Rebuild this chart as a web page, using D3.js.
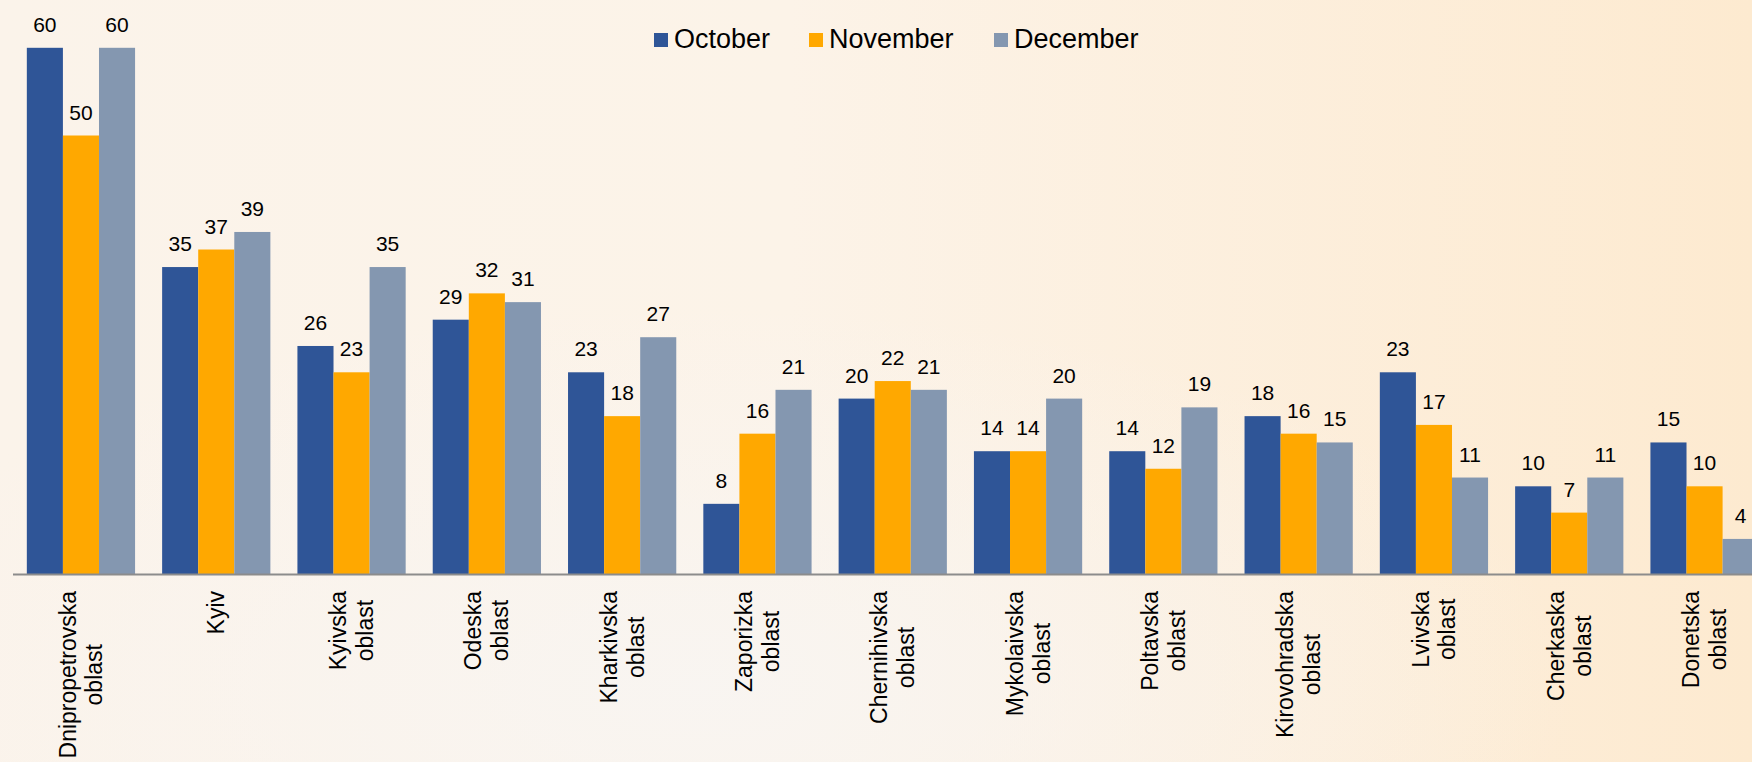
<!DOCTYPE html>
<html>
<head>
<meta charset="utf-8">
<script src="https://cdn.jsdelivr.net/npm/d3@7"></script>
<style>
    html, body { margin: 0; padding: 0; overflow: hidden; }
    body { width: 1752px; height: 762px; }
    text { font-family: "Liberation Sans", Arial, sans-serif; fill: #000; }
</style>
</head>
<body>
<svg id="chart" width="1752" height="762"></svg>
<script>
/*
    Grouped bars by region, three months.
*/

var regions = [
    "Dnipropetrovska oblast", "Kyiv", "Kyivska oblast", "Odeska oblast",
    "Kharkivska oblast", "Zaporizka oblast", "Chernihivska oblast",
    "Mykolaivska oblast", "Poltavska oblast", "Kirovohradska oblast",
    "Lvivska oblast", "Cherkaska oblast", "Donetska oblast"
];
var months = ["October", "November", "December"];
var october  = [60, 35, 26, 29, 23,  8, 20, 14, 14, 18, 23, 10, 15];
var november = [50, 37, 23, 32, 18, 16, 22, 14, 12, 16, 17,  7, 10];
var december = [60, 39, 35, 31, 27, 21, 21, 20, 19, 15, 11, 11,  4];
var colors = ["#2F5597", "#FFA800", "#8497B0"];

var svg = d3.select("#chart");
var W = 1752, H = 762;
var axisY = 574;

// background
var defs = svg.append("defs");
var bg = defs.append("linearGradient").attr("id", "bg")
    .attr("x1", 0).attr("y1", 0).attr("x2", 1).attr("y2", 0);
bg.append("stop").attr("offset", "0%").attr("stop-color", "#FBF3EA");
bg.append("stop").attr("offset", "45%").attr("stop-color", "#FCF3E8");
bg.append("stop").attr("offset", "100%").attr("stop-color", "#FDEAD0");
var glow = defs.append("radialGradient").attr("id", "glow")
    .attr("cx", 0.4).attr("cy", 0.9).attr("r", 0.5);
glow.append("stop").attr("offset", "0%").attr("stop-color", "#F8F5F2").attr("stop-opacity", 0.9);
glow.append("stop").attr("offset", "100%").attr("stop-color", "#F8F5F2").attr("stop-opacity", 0);

svg.append("rect").attr("width", W).attr("height", H).attr("fill", "url(#bg)");
svg.append("rect").attr("width", W).attr("height", H).attr("fill", "url(#glow)");

var series = [october, november, december];
var rows = regions.map(function(r, i) {
    return { region: r, values: series.map(function(s) { return s[i]; }) };
});

var x0 = d3.scaleBand()
    .domain(regions)
    .range([13.3, 13.3 + 135.3 * regions.length])
    .paddingInner(0.2)
    .paddingOuter(0.1);

var x1 = d3.scaleBand()
    .domain(d3.range(months.length))
    .range([0, x0.bandwidth()]);

var y = d3.scaleLinear()
    .domain([0, 60])
    .range([axisY, axisY - 60 * 8.77]);

var groups = svg.selectAll(".group")
    .data(rows)
    .enter().append("g")
    .attr("class", "group")
    .attr("transform", function(d) { return "translate(" + x0(d.region) + ",0)"; });

groups.selectAll("rect")
    .data(function(d) { return d.values; })
    .enter().append("rect")
    .attr("x", function(d, i) { return x1(i); })
    .attr("y", function(d) { return y(d); })
    .attr("width", x1.bandwidth())
    .attr("height", function(d) { return axisY - y(d); })
    .attr("fill", function(d, i) { return colors[i]; });

groups.selectAll(".val")
    .data(function(d) { return d.values; })
    .enter().append("text")
    .attr("class", "val")
    .attr("x", function(d, i) { return x1(i) + x1.bandwidth() / 2; })
    .attr("y", function(d) { return y(d) - 16; })
    .attr("text-anchor", "middle")
    .style("font-size", "21px")
    .text(function(d) { return d; });

// axis line
svg.append("line")
    .attr("x1", 13).attr("x2", W)
    .attr("y1", axisY + 0.5).attr("y2", axisY + 0.5)
    .attr("stroke", "#8C8C8C")
    .attr("stroke-width", 2);

// category labels, rotated, lines centred on each other
var labels = svg.selectAll(".cat")
    .data(regions)
    .enter().append("g")
    .attr("class", "cat")
    .attr("transform", function(d) {
        return "translate(" + (x0(d) + x0.bandwidth() / 2) + "," + (axisY + 17) + ") rotate(-90)";
    });

labels.each(function(d) {
    var g = d3.select(this);
    var parts = d.split(" ");
    var lineH = 27;
    var t = g.append("text")
        .attr("text-anchor", "middle")
        .style("font-size", "23px");
    parts.forEach(function(p, i) {
        t.append("tspan")
            .attr("x", 0)
            .attr("y", (i - (parts.length - 1) / 2) * lineH)
            .attr("dy", "0.35em")
            .text(p);
    });
    var maxW = 0;
    t.selectAll("tspan").each(function() {
        maxW = Math.max(maxW, this.getComputedTextLength());
    });
    t.selectAll("tspan").attr("x", -maxW / 2);
});

// legend
var legendX = [654, 809, 994];
var legend = svg.selectAll(".leg")
    .data(months)
    .enter().append("g")
    .attr("class", "leg")
    .attr("transform", function(d, i) { return "translate(" + legendX[i] + ",33)"; });

legend.append("rect")
    .attr("width", 14).attr("height", 14)
    .attr("fill", function(d, i) { return colors[i]; });

legend.append("text")
    .attr("x", 20)
    .attr("y", 15)
    .style("font-size", "27px")
    .text(function(d) { return d; });
</script>
</body>
</html>
